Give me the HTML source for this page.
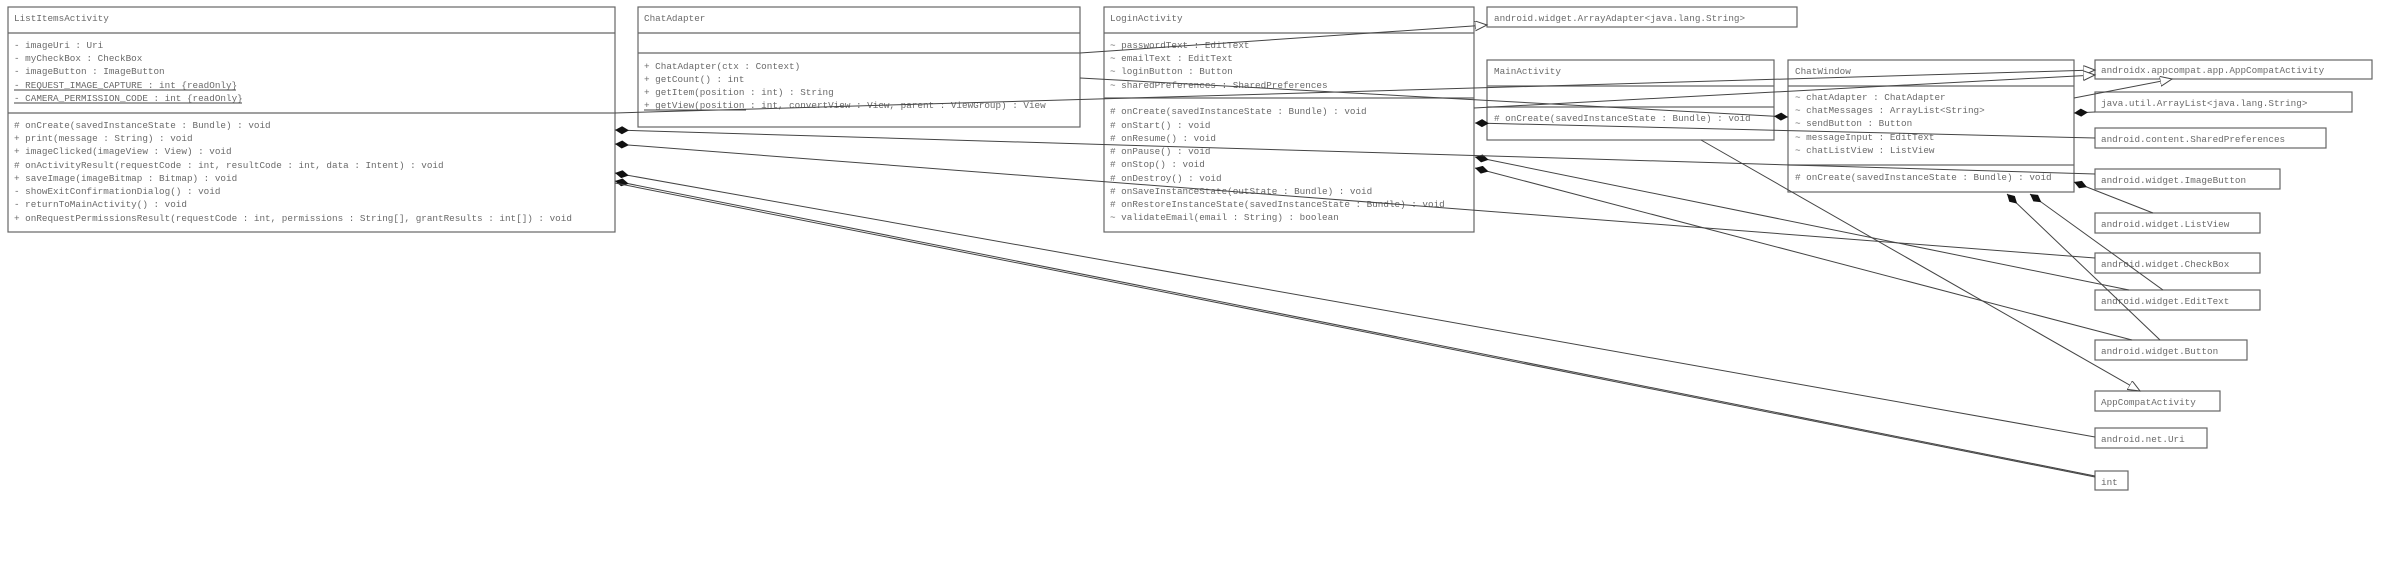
<!DOCTYPE html>
<html><head><meta charset="utf-8"><style>
html,body{margin:0;padding:0;background:#fff;}
svg{display:block;}
text{font-family:"Liberation Mono",monospace;font-size:9.3px;fill:#6a6a6a;}
rect{fill:#fff;stroke:#666;stroke-width:1.2;}
.d{stroke:#666;stroke-width:1.2;}
.c{stroke:#444;stroke-width:1;fill:none;}
</style></head><body>
<svg width="2393" height="570" viewBox="0 0 2393 570" xmlns="http://www.w3.org/2000/svg">
<defs>
<marker id="dia" markerUnits="userSpaceOnUse" markerWidth="16" markerHeight="10" refX="0" refY="4" orient="auto"><path d="M0,4 L7,0 L14,4 L7,8 z" fill="#111"/></marker>
<marker id="tri" markerUnits="userSpaceOnUse" markerWidth="14" markerHeight="12" refX="12" refY="5" orient="auto"><path d="M0,0 L12,5 L0,10 z" fill="#fff" stroke="#444" stroke-width="1"/></marker>
</defs>

<rect x="8" y="7" width="607" height="225"/>
<line class="d" x1="8" y1="33" x2="615" y2="33"/><line class="d" x1="8" y1="113" x2="615" y2="113"/>
<text x="14" y="21">ListItemsActivity</text>
<text x="14" y="48">- imageUri : Uri</text>
<text x="14" y="61">- myCheckBox : CheckBox</text>
<text x="14" y="74">- imageButton : ImageButton</text>
<text x="14" y="88">- REQUEST_IMAGE_CAPTURE : int {readOnly}</text>
<line class="c" x1="14" y1="90" x2="236" y2="90"/>
<text x="14" y="101">- CAMERA_PERMISSION_CODE : int {readOnly}</text>
<line class="c" x1="14" y1="103" x2="242" y2="103"/>
<text x="14" y="128"># onCreate(savedInstanceState : Bundle) : void</text>
<text x="14" y="141">+ print(message : String) : void</text>
<text x="14" y="154">+ imageClicked(imageView : View) : void</text>
<text x="14" y="168"># onActivityResult(requestCode : int, resultCode : int, data : Intent) : void</text>
<text x="14" y="181">+ saveImage(imageBitmap : Bitmap) : void</text>
<text x="14" y="194">- showExitConfirmationDialog() : void</text>
<text x="14" y="207">- returnToMainActivity() : void</text>
<text x="14" y="221">+ onRequestPermissionsResult(requestCode : int, permissions : String[], grantResults : int[]) : void</text>

<rect x="638" y="7" width="442" height="120"/>
<line class="d" x1="638" y1="33" x2="1080" y2="33"/><line class="d" x1="638" y1="53" x2="1080" y2="53"/>
<text x="644" y="21">ChatAdapter</text>
<text x="644" y="69">+ ChatAdapter(ctx : Context)</text>
<text x="644" y="82">+ getCount() : int</text>
<text x="644" y="95">+ getItem(position : int) : String</text>
<text x="644" y="108">+ getView(position : int, convertView : View, parent : ViewGroup) : View</text>
<line class="c" x1="644" y1="110" x2="746" y2="110"/>

<rect x="1104" y="7" width="370" height="225"/>
<line class="d" x1="1104" y1="33" x2="1474" y2="33"/><line class="d" x1="1104" y1="98" x2="1474" y2="98"/>
<text x="1110" y="21">LoginActivity</text>
<text x="1110" y="48">~ passwordText : EditText</text>
<text x="1110" y="61">~ emailText : EditText</text>
<text x="1110" y="74">~ loginButton : Button</text>
<text x="1110" y="88">~ sharedPreferences : SharedPreferences</text>
<text x="1110" y="114"># onCreate(savedInstanceState : Bundle) : void</text>
<text x="1110" y="128"># onStart() : void</text>
<text x="1110" y="141"># onResume() : void</text>
<text x="1110" y="154"># onPause() : void</text>
<text x="1110" y="167"># onStop() : void</text>
<text x="1110" y="181"># onDestroy() : void</text>
<text x="1110" y="194"># onSaveInstanceState(outState : Bundle) : void</text>
<text x="1110" y="207"># onRestoreInstanceState(savedInstanceState : Bundle) : void</text>
<text x="1110" y="220">~ validateEmail(email : String) : boolean</text>

<rect x="1487" y="7" width="310" height="20"/>
<text x="1494" y="21">android.widget.ArrayAdapter&lt;java.lang.String&gt;</text>

<rect x="1487" y="60" width="287" height="80"/>
<line class="d" x1="1487" y1="86" x2="1774" y2="86"/><line class="d" x1="1487" y1="107" x2="1774" y2="107"/>
<text x="1494" y="74">MainActivity</text>
<text x="1494" y="121"># onCreate(savedInstanceState : Bundle) : void</text>

<rect x="1788" y="60" width="286" height="132"/>
<line class="d" x1="1788" y1="86" x2="2074" y2="86"/><line class="d" x1="1788" y1="165" x2="2074" y2="165"/>
<text x="1795" y="74">ChatWindow</text>
<text x="1795" y="100">~ chatAdapter : ChatAdapter</text>
<text x="1795" y="113">~ chatMessages : ArrayList&lt;String&gt;</text>
<text x="1795" y="126">~ sendButton : Button</text>
<text x="1795" y="140">~ messageInput : EditText</text>
<text x="1795" y="153">~ chatListView : ListView</text>
<text x="1795" y="180"># onCreate(savedInstanceState : Bundle) : void</text>

<rect x="2095" y="60" width="277" height="19"/><text x="2101" y="73">androidx.appcompat.app.AppCompatActivity</text>
<rect x="2095" y="92" width="257" height="20"/><text x="2101" y="106">java.util.ArrayList&lt;java.lang.String&gt;</text>
<rect x="2095" y="128" width="231" height="20"/><text x="2101" y="142">android.content.SharedPreferences</text>
<rect x="2095" y="169" width="185" height="20"/><text x="2101" y="183">android.widget.ImageButton</text>
<rect x="2095" y="213" width="165" height="20"/><text x="2101" y="227">android.widget.ListView</text>
<rect x="2095" y="253" width="165" height="20"/><text x="2101" y="267">android.widget.CheckBox</text>
<rect x="2095" y="290" width="165" height="20"/><text x="2101" y="304">android.widget.EditText</text>
<rect x="2095" y="340" width="152" height="20"/><text x="2101" y="354">android.widget.Button</text>
<rect x="2095" y="391" width="125" height="20"/><text x="2101" y="405">AppCompatActivity</text>
<rect x="2095" y="428" width="112" height="20"/><text x="2101" y="442">android.net.Uri</text>
<rect x="2095" y="471" width="33" height="19"/><text x="2101" y="485">int</text>

<line class="c" x1="1080" y1="53" x2="1487" y2="25" marker-end="url(#tri)"/>
<line class="c" x1="615" y1="113" x2="2095" y2="70" marker-end="url(#tri)"/>
<line class="c" x1="1474" y1="108" x2="2095" y2="75" marker-end="url(#tri)"/>
<line class="c" x1="2074" y1="98" x2="2172" y2="79" marker-end="url(#tri)"/>
<line class="c" x1="1701" y1="140" x2="2140" y2="391" marker-end="url(#tri)"/>
<line class="c" x1="1788" y1="117" x2="1080" y2="78" marker-start="url(#dia)"/>
<line class="c" x1="2074" y1="113" x2="2095" y2="112" marker-start="url(#dia)"/>
<line class="c" x1="2074" y1="182" x2="2153" y2="213" marker-start="url(#dia)"/>
<line class="c" x1="2007" y1="194" x2="2160" y2="340" marker-start="url(#dia)"/>
<line class="c" x1="2030" y1="194" x2="2163" y2="290" marker-start="url(#dia)"/>
<line class="c" x1="1475" y1="123" x2="2095" y2="138" marker-start="url(#dia)"/>
<line class="c" x1="1475" y1="157" x2="2129" y2="290" marker-start="url(#dia)"/>
<line class="c" x1="1475" y1="168" x2="2132" y2="340" marker-start="url(#dia)"/>
<line class="c" x1="615" y1="130" x2="2095" y2="174" marker-start="url(#dia)"/>
<line class="c" x1="615" y1="144" x2="2095" y2="258" marker-start="url(#dia)"/>
<line class="c" x1="615" y1="173" x2="2095" y2="437" marker-start="url(#dia)"/>
<line class="c" x1="615" y1="181" x2="2095" y2="476" marker-start="url(#dia)"/>
<line class="c" x1="615" y1="183" x2="2095" y2="477"/>
</svg>
</body></html>
